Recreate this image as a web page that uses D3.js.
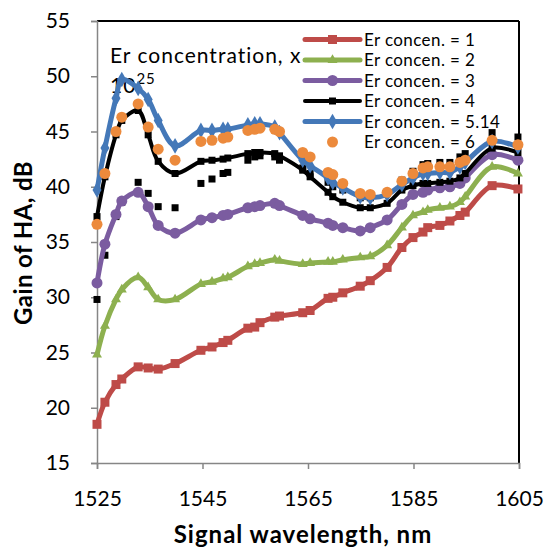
<!DOCTYPE html>
<html>
<head>
<meta charset="utf-8">
<script src="https://cdn.jsdelivr.net/npm/d3@7"></script>
<style>
  html, body { margin: 0; padding: 0; background: #fff; }
  svg { display: block; font-family: Lato, "Open Sans", sans-serif; }
</style>
</head>
<body>
<svg id="chart" width="545" height="552"></svg>
<script>
// Signal wavelengths (nm) shared by every series
const wavelengths = [1525, 1526.5, 1528.6, 1529.7, 1532.8, 1534.7, 1536.6, 1539.8, 1544.7, 1546.8,
  1548.9, 1549.8, 1553.6, 1554.9, 1555.9, 1558.7, 1559.6, 1564.0, 1565.4, 1568.8,
  1569.7, 1571.6, 1574.9, 1576.8, 1580.0, 1582.8, 1584.9, 1586.8, 1587.7, 1590.0,
  1591.9, 1593.8, 1594.8, 1599.9, 1604.8];

// Gain of HA (dB) for each Er concentration
const gainEr1 = [18.5, 20.5, 22.1, 22.6, 23.7, 23.6, 23.5, 24.0, 25.2, 25.5,
  25.9, 26.1, 27.2, 27.3, 27.7, 28.2, 28.3, 28.6, 28.8, 29.9,
  30.0, 30.4, 31.0, 31.5, 32.7, 34.5, 35.4, 35.9, 36.3, 36.5,
  36.9, 37.4, 37.7, 40.1, 39.8];
const gainEr2 = [24.8, 27.4, 29.8, 30.7, 31.8, 30.9, 29.8, 29.8, 31.2, 31.4,
  31.7, 31.8, 32.8, 33.0, 33.1, 33.4, 33.3, 33.0, 33.1, 33.2,
  33.2, 33.4, 33.6, 33.7, 34.7, 36.3, 37.4, 37.7, 37.9, 38.1,
  38.2, 38.6, 39.1, 41.8, 41.2];
const gainEr3 = [31.3, 34.8, 37.5, 38.7, 39.5, 38.2, 36.5, 35.8, 37.0, 37.2,
  37.4, 37.5, 38.1, 38.2, 38.3, 38.5, 38.3, 37.4, 37.1, 36.7,
  36.5, 36.3, 36.0, 36.3, 37.0, 38.4, 39.3, 39.5, 39.7, 39.9,
  40.0, 40.3, 40.8, 42.9, 42.4];
const gainEr4 = [37.3, 40.9, 44.7, 46.0, 46.9, 44.7, 42.3, 41.2, 42.3, 42.4,
  42.5, 42.6, 43.0, 43.1, 43.1, 43.0, 42.8, 41.5, 40.9, 39.5,
  39.1, 38.6, 38.1, 38.1, 38.5, 39.7, 40.1, 40.3, 40.3, 40.4,
  40.5, 40.8, 41.2, 43.5, 43.1];
const gainEr514 = [39.7, 43.5, 48.0, 49.7, 48.9, 47.9, 46.0, 43.7, 45.1, 45.1,
  45.2, 45.2, 45.6, 45.7, 45.7, 45.4, 44.9, 42.4, 41.9, 40.8,
  40.4, 39.9, 39.1, 39.0, 39.3, 40.2, 40.8, 41.2, 41.2, 41.3,
  41.3, 41.8, 42.2, 44.1, 43.6];
const gainEr6 = [36.6, 41.2, 45.0, 46.3, 47.5, 45.4, 43.4, 42.4, 44.1, 44.2,
  44.4, 44.5, 45.1, 45.2, 45.3, 45.2, 45.0, 43.1, 42.7, 41.3,
  41.1, 40.3, 39.4, 39.3, 39.5, 40.5, 41.2, 41.7, 41.8, 41.8,
  41.8, 42.2, 42.4, 44.2, 43.8];
// Additional points plotted as bare black squares
const gainExtra = [29.8, 33.8, 37.3, 38.6, 40.4, 39.4, 38.2, 38.1, 40.3, 40.7,
  41.2, 41.3, 42.4, 42.7, 42.8, 42.7, 42.4, 41.7, 41.2, 40.4,
  40.0, 39.7, 39.0, 39.0, 39.5, 40.6, 41.4, 42.0, 42.1, 42.2,
  42.2, 42.7, 43.0, 44.9, 44.5];

const legendLabels = ["Er concen. = 1", "Er concen. = 2", "Er concen. = 3",
  "Er concen. = 4", "Er concen. = 5.14", "Er concen. = 6"];
const xTicks = [1525, 1545, 1565, 1585, 1605];
const yTicks = [15, 20, 25, 30, 35, 40, 45, 50, 55];

const series = [
  { name: legendLabels[0], values: gainEr1, color: "#BE4B48", line: true, marker: "square", size: 9, width: 5 },
  { name: legendLabels[1], values: gainEr2, color: "#8DB04F", line: true, marker: "triangle", size: 10, width: 5 },
  { name: legendLabels[2], values: gainEr3, color: "#7B5CA0", line: true, marker: "circle", size: 11, width: 5 },
  { name: legendLabels[3], values: gainEr4, color: "#000000", line: true, marker: "square", size: 7, width: 4 },
  { name: legendLabels[4], values: gainEr514, color: "#4478B8", line: true, marker: "diamond", size: 11, width: 5 },
  { name: legendLabels[5], values: gainEr6, color: "#EC8A3C", line: false, marker: "circle", size: 11, width: 0 }
];
const extra = { values: gainExtra, color: "#000000", marker: "square", size: 7 };

const svg = d3.select("#chart");
const x = d3.scaleLinear().domain([1525, 1605]).range([97, 519]);
const y = d3.scaleLinear().domain([15, 55]).range([463, 21]);

const symbolType = {
  square: d3.symbolSquare,
  triangle: d3.symbolTriangle,
  circle: d3.symbolCircle,
  diamond: d3.symbolDiamond
};
function symbolPath(kind, size) {
  // size is the approximate marker width in px
  let area;
  if (kind === "square") area = size * size;
  else if (kind === "circle") area = Math.PI * (size / 2) * (size / 2);
  else if (kind === "triangle") area = size * size * 0.433;
  else area = size * size * 0.58;
  return d3.symbol().type(symbolType[kind]).size(area)();
}

// Plot frame: black top and right borders
svg.append("line").attr("x1", 97).attr("x2", 519).attr("y1", 21).attr("y2", 21)
  .attr("stroke", "#000").attr("stroke-width", 2);
svg.append("line").attr("x1", 519).attr("x2", 519).attr("y1", 21).attr("y2", 463)
  .attr("stroke", "#000").attr("stroke-width", 2);

// Axes
const xAxis = svg.append("g").attr("transform", "translate(0,463)")
  .call(d3.axisBottom(x).tickValues(xTicks).tickFormat(d3.format("d")).tickSize(6).tickPadding(22));
const yAxis = svg.append("g").attr("transform", "translate(97,0)")
  .call(d3.axisLeft(y).tickValues(yTicks).tickSize(6).tickPadding(21));
[xAxis, yAxis].forEach(g => {
  g.select(".domain").attr("stroke", "#868686").attr("stroke-width", 1.5);
  g.selectAll(".tick line").attr("stroke", "#868686").attr("stroke-width", 1.5);
  g.selectAll(".tick text").attr("fill", "#000").style("font-size", "21px")
    .style("font-family", "Lato, sans-serif");
});

// Axis titles
svg.append("text").attr("x", 303).attr("y", 543).attr("text-anchor", "middle")
  .style("font-size", "24px").style("font-weight", "bold").style("letter-spacing", "1px")
  .text("Signal wavelength, nm");
svg.append("text").attr("transform", "translate(32,243) rotate(-90)").attr("text-anchor", "middle")
  .style("font-size", "24px").style("font-weight", "bold").style("letter-spacing", "0.4px")
  .text("Gain of HA, dB");

// Annotation
svg.append("text").attr("x", 110).attr("y", 63).style("font-size", "21px").style("letter-spacing", "1px")
  .text("Er concentration, x");
const tenText = svg.append("text").attr("x", 110).attr("y", 93).style("font-size", "21px")
  .style("letter-spacing", "1px");
tenText.append("tspan").text("10");
tenText.append("tspan").attr("dy", -9).style("font-size", "15px").text("25");

const lineGen = d3.line()
  .x((d, i) => x(wavelengths[i]))
  .y(d => y(d))
  .curve(d3.curveCatmullRom.alpha(0.5));

const plot = svg.append("g");

// Bare black squares
plot.append("g").selectAll("path").data(extra.values).join("path")
  .attr("d", symbolPath(extra.marker, extra.size))
  .attr("transform", (d, i) => `translate(${x(wavelengths[i])},${y(d)})`)
  .attr("fill", extra.color);

series.forEach(s => {
  const g = plot.append("g");
  if (s.line) {
    g.append("path").datum(s.values).attr("d", lineGen)
      .attr("fill", "none").attr("stroke", s.color).attr("stroke-width", s.width)
      .attr("stroke-linejoin", "round");
  }
  g.selectAll("path.mk").data(s.values).join("path").attr("class", "mk")
    .attr("d", symbolPath(s.marker, s.size))
    .attr("transform", (d, i) => `translate(${x(wavelengths[i])},${y(d)})`)
    .attr("fill", s.color);
});

// Legend
const legend = svg.append("g");
series.forEach((s, i) => {
  const cy = 39.5 + i * 20.5;
  const row = legend.append("g");
  if (s.line) {
    row.append("line").attr("x1", 305).attr("x2", 360).attr("y1", cy).attr("y2", cy)
      .attr("stroke", s.color).attr("stroke-width", s.width).attr("stroke-linecap", "round");
  }
  row.append("path").attr("d", symbolPath(s.marker, s.size))
    .attr("transform", `translate(332.5,${cy})`).attr("fill", s.color);
  row.append("text").attr("x", 364).attr("y", cy + 6).style("font-size", "17px")
    .style("letter-spacing", "0.4px").text(s.name);
});
</script>
</body>
</html>
